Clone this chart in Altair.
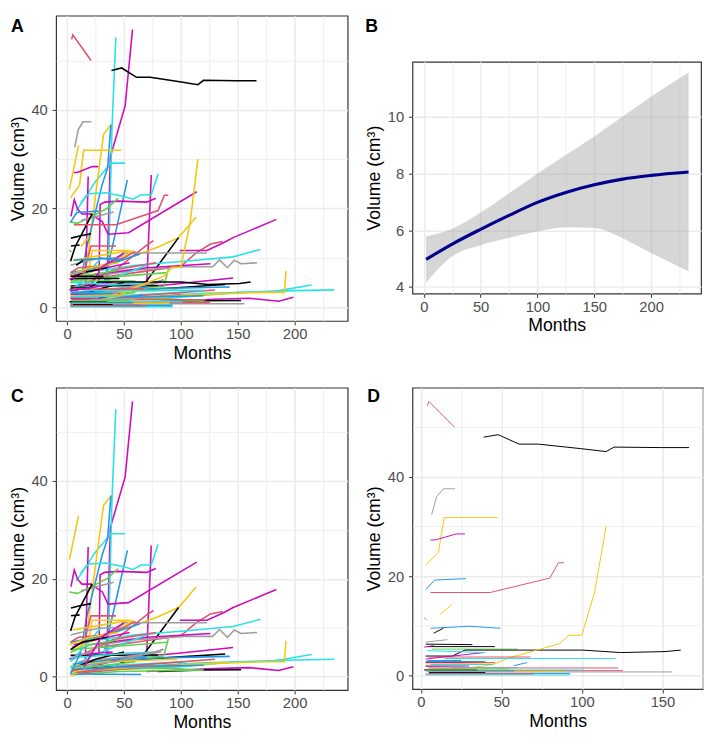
import altair as alt
import pandas as pd

PALETTE = ["#000000", "#DF536B", "#61D04F", "#2297E6", "#28E2E5", "#CD0BBC", "#F5C710", "#9E9E9E"]

# ---- Panel C (growing tumours) : months, volumes, colour index per patient ----
C_MONTHS = [
    [35, 38, 51, 57.5], [36, 39.5, 42.8], [8, 25, 38.5, 51], [18, 24, 32, 38.5], [2, 10],
    [12, 17, 31, 35.6, 38.5], [33, 41, 53], [16, 18.5], [3.4, 6.3, 9.2, 13, 22],
    [28, 29, 33, 45, 70, 78], [20, 31, 36, 54, 114], [34, 70, 74],
    [12, 19, 34, 49, 58, 65, 74, 80], [2, 9, 20, 35, 45], [12.6, 41], [3, 7, 22],
    [3.4, 12, 21], [3.4, 11], [15, 21, 43], [10, 35, 60, 80, 98, 113.5], [5, 40, 66, 98],
    [30, 60, 100, 113, 126, 137], [99, 123, 138, 146, 184],
    [30, 60, 103, 128, 134, 141, 147, 153, 167], [40, 51, 123], [30, 60, 103, 146, 170],
    [20, 70, 126], [40, 100, 146], [30, 100, 139], [10, 80, 143], [5, 50, 100, 150, 190, 235],
    [60, 120, 180, 215], [50, 110, 170, 191, 192.5], [70, 130, 160, 186, 199], [80, 120, 153],
    [30, 90, 120], [45, 70, 76], [10, 50, 85, 89], [50, 73, 84.5],
    [3, 20, 45, 58], [4, 25, 50, 60], [5, 30, 56], [18, 22, 54], [3, 26, 42], [3, 35, 64],
    [5, 40, 78], [3, 30, 70], [3, 80], [4, 60, 88], [3, 30, 60], [3, 50, 100], [5, 40, 70],
    [3, 20, 45], [6, 25, 55], [3, 45, 120], [4, 65], [3, 35, 97], [10, 50, 83], [3, 15, 30],
    [4, 25, 50], [3, 10, 36], [2, 12, 40], [3, 60, 105], [5, 55, 140], [3, 20], [8, 45, 130],
    [3, 40, 75], [4, 30, 60], [3, 13, 35], [2, 20, 45], [5, 22], [6, 42, 85], [15, 30, 50],
    [3, 12], [10, 60, 120],
]
C_VOLS = [
    [4.8, 30.5, 40.8, 56.3], [5.0, 36.6, 54.7], [19.5, 25.5, 29.2, 29.2], [10.0, 21.0, 35.0, 37.0], [23.9, 32.8],
    [5.0, 12.0, 25.0, 28.2, 37.0], [5.5, 13.5, 25.8], [3.0, 26.5], [18.4, 21.8, 19.9, 18.9, 18.9],
    [4.6, 20.8, 21.3, 21.5, 21.3, 22.1], [19.0, 17.3, 14.8, 15.1, 23.4], [4.6, 4.8, 26.8],
    [21.2, 23.0, 23.2, 22.5, 21.9, 22.8, 22.8, 27.0], [17.3, 17.0, 18.2, 20.0, 22.1], [17.6, 19.3], [9.3, 12.2, 18.9],
    [14.0, 14.5, 14.9], [12.4, 12.6], [7.0, 12.4, 12.4], [6.0, 8.5, 10.5, 12.2, 14.1, 18.3], [1.5, 2.2, 4.1, 14.1],
    [6.0, 7.0, 8.3, 10.9, 12.8, 13.3], [11.5, 11.5, 13.1, 14.1, 17.8],
    [6.5, 7.5, 8.2, 8.2, 9.6, 8.0, 9.5, 8.8, 9.0], [9.0, 11.0, 11.0], [7.5, 8.5, 9.3, 10.2, 11.7],
    [6.5, 8.0, 8.8], [3.5, 4.8, 5.9], [3.0, 4.0, 4.6], [2.8, 3.8, 4.1], [0.8, 1.5, 2.0, 3.0, 3.3, 3.5],
    [2.0, 2.8, 3.1, 4.5], [1.5, 2.5, 3.0, 3.0, 7.3], [1.0, 1.6, 1.8, 1.2, 2.0], [1.0, 1.3, 1.35],
    [1.5, 1.7, 1.2], [8.0, 12.6, 13.5], [2.5, 3.8, 4.2, 7.7], [3.0, 4.4, 5.6],
    [4.8, 7.5, 9.5, 11.5], [6.0, 8.0, 10.0, 11.3], [9.5, 10.5, 11.5], [6.0, 11.5, 11.5], [8.5, 9.8, 10.0], [7.0, 8.5, 10.8],
    [3.5, 7.5, 9.0], [2.0, 5.0, 8.5], [4.3, 4.4], [5.5, 6.5, 7.0], [1.0, 2.5, 4.5], [0.5, 1.5, 2.5], [2.5, 3.5, 4.0],
    [5.0, 6.5, 7.5], [6.5, 7.5, 9.0], [0.3, 1.0, 1.3], [0.5, 0.4], [2.0, 3.0, 3.5], [3.0, 4.0, 5.0], [3.0, 6.0, 10.0],
    [1.5, 3.5, 5.0], [7.0, 8.0, 8.5], [3.5, 4.5, 5.0], [1.8, 2.5, 3.0], [1.0, 1.8, 2.8], [0.3, 1.5], [0.8, 2.0, 3.5],
    [3.8, 4.5, 5.0], [1.5, 2.2, 3.0], [5.5, 7.0, 8.0], [6.5, 8.0, 9.0], [4.0, 5.0], [2.0, 3.0, 5.5], [2.0, 8.0, 11.0],
    [0.5, 5.0], [1.5, 2.0, 2.3],
]
C_COLS = [
    5, 4, 4, 6, 6, 3, 3, 5, 5, 5, 5, 5, 4, 2, 7, 0, 0, 0, 1, 6, 0, 1, 5, 7, 7, 4, 5, 5, 0, 3, 4,
    4, 6, 5, 0, 2, 1, 2, 7,
    6, 1, 6, 6, 7, 3, 1, 4, 0, 2, 5, 1, 3, 2, 5, 2, 3, 6, 7, 4, 0, 1, 5, 4, 6, 6, 1, 4, 2, 0, 6,
    7, 7, 5, 3, 3,
]

# ---- Panel D (stable tumours) ----
D_MONTHS = [
    [4, 5, 21], [39, 48, 61, 73, 99, 115, 120, 149, 166.5], [6.7, 9.8, 14, 21.3],
    [3, 11, 12.8, 14.6, 47.6], [6, 9, 22, 27.4], [3.2, 8.5, 28], [6, 43, 80, 85.5, 89],
    [12, 19], [2, 3.7], [6, 30, 49.4], [8, 14], [3, 16.5], [3, 32], [4, 46], [7, 60],
    [3, 19.5, 27.4, 100.6, 124, 151.6, 161.4], [3, 30, 45, 55, 70, 86, 92, 100, 108, 115],
    [15, 121], [5, 68], [3, 39], [2, 8], [4, 40], [5, 122.6], [10, 156], [5, 125.6],
    [8, 101.6], [5, 92.7], [3, 92.7], [3, 46], [57.7, 66], [2, 35], [3, 46], [4, 25],
    [3, 40], [20, 60], [3, 30], [4, 55], [5, 40], [3, 70], [4, 90], [3, 28], [6, 45], [3, 58],
]
D_VOLS = [
    [54.3, 55.2, 50.0], [48.0, 48.5, 46.6, 46.6, 45.7, 45.1, 46.0, 45.9, 45.9], [32.4, 36.0, 37.6, 37.6],
    [22.2, 24.8, 28.6, 31.8, 31.8], [27.3, 27.3, 28.5, 28.5], [17.3, 19.2, 19.5], [16.7, 16.7, 19.6, 22.7, 22.7],
    [12.3, 14.2], [11.6, 11.2], [9.5, 9.9, 9.5], [8.5, 9.5], [6.7, 7.2], [6.3, 6.2], [5.8, 5.8], [5.3, 5.3],
    [3.9, 3.9, 5.1, 5.1, 4.6, 4.8, 5.1], [1.2, 1.5, 2.2, 3.6, 4.9, 6.4, 8.1, 8.1, 16.9, 30.0],
    [3.4, 3.4], [3.7, 3.7], [3.3, 4.6], [5.7, 6.0], [5.0, 4.6], [1.5, 1.5], [0.7, 0.7], [0.95, 0.95],
    [1.1, 1.1], [0.4, 0.4], [0.1, 0.1], [2.6, 2.6], [1.95, 2.6], [1.1, 1.1], [2.3, 2.5], [3.0, 3.0],
    [2.8, 2.8], [1.6, 1.6], [1.8, 1.9], [1.3, 1.3], [0.6, 0.6], [0.3, 0.3], [0.8, 0.8], [2.0, 2.0], [2.2, 2.2], [0.9, 0.9],
]
D_COLS = [
    1, 0, 7, 6, 5, 3, 1, 6, 2, 3, 0, 7, 0, 0, 2, 0, 6, 4, 1, 5, 5, 4, 1, 7, 1, 4, 3, 4, 5, 3,
    0, 6, 3, 3, 7, 5, 2, 0, 1, 6, 7, 4, 3,
]

# ---- Panel B (smoothed trend with confidence band) ----
B_MONTHS = [2, 25, 50, 75, 100, 125, 150, 175, 200, 233]
B_FIT = [4.97, 5.51, 6.03, 6.52, 6.98, 7.33, 7.6, 7.8, 7.93, 8.05]
B_LOW = [4.15, 5.08, 5.47, 5.73, 5.95, 6.1, 6.08, 5.72, 5.2, 4.55]
B_HIGH = [5.78, 6.05, 6.62, 7.3, 8.0, 8.65, 9.3, 10.0, 10.7, 11.55]

X_TICKS_AC = [0, 25, 50, 75, 100, 125, 150, 175, 200, 225]
X_TICKS_D = [0, 25, 50, 75, 100, 125, 150, 175]
Y_TICKS_ACD = [0, 10, 20, 30, 40, 50]
Y_TICKS_B = [4, 5, 6, 7, 8, 9, 10, 11]

FONT = "Liberation Sans"


def frame(months, vols, cols, prefix):
    rows = []
    for i, (ms, vs, c) in enumerate(zip(months, vols, cols)):
        for j, (m, v) in enumerate(zip(ms, vs)):
            rows.append({"id": f"{prefix}{i:03d}", "seq": j, "Month": m, "Volume": v, "col": PALETTE[c]})
    return pd.DataFrame(rows)


def axis(values, major, title):
    test = f"datum.value % {major} === 0"
    return alt.Axis(
        values=values,
        title=title,
        labelExpr=f"{test} ? datum.label : ''",
        gridWidth={"condition": {"test": test, "value": 1.5}, "value": 0.8},
        tickOpacity={"condition": {"test": test, "value": 1}, "value": 0},
        labelFlush=False,
        labelOverlap=False,
    )


def label(txt, x, y):
    return alt.Chart(pd.DataFrame({"t": [txt]})).mark_text(
        align="left", baseline="top", fontSize=18, fontWeight="bold", font=FONT, color="black"
    ).encode(text="t:N", x=alt.value(x), y=alt.value(y))


def spaghetti(df, xdom, ydom, xvals, xmajor, w, h, sw, lab, lab_y):
    lines = alt.Chart(df).mark_line(strokeWidth=sw).encode(
        x=alt.X("Month:Q", scale=alt.Scale(domain=xdom, nice=False, zero=False),
                axis=axis(xvals, xmajor, "Months")),
        y=alt.Y("Volume:Q", scale=alt.Scale(domain=ydom, nice=False, zero=False),
                axis=axis(Y_TICKS_ACD, 20, "Volume (cm³)")),
        detail="id:N",
        color=alt.Color("col:N", scale=None),
        order="seq:Q",
    )
    return alt.layer(lines, label(lab, -46, lab_y)).properties(width=w, height=h)


dfC = frame(C_MONTHS, C_VOLS, C_COLS, "c")
dfD = frame(D_MONTHS, D_VOLS, D_COLS, "d")
dfA = pd.concat([dfC, dfD], ignore_index=True)

XDOM_AC = [-9.7, 246.7]
YDOM = [-2.8, 59.1]

panelA = spaghetti(dfA, XDOM_AC, YDOM, X_TICKS_AC, 50, 297, 311, 1.6, "A", 3)
panelC = spaghetti(dfC, XDOM_AC, YDOM, X_TICKS_AC, 50, 297, 308, 1.6, "C", 1)
panelD = spaghetti(dfD, [-5.2, 175.2], [-2.76, 57.96], X_TICKS_D, 50, 296, 307, 1.0, "D", 1)

dfB = pd.DataFrame({"Month": B_MONTHS, "fit": B_FIT, "low": B_LOW, "high": B_HIGH})
bx = alt.X("Month:Q", scale=alt.Scale(domain=[-10, 244], nice=False, zero=False),
           axis=axis(X_TICKS_AC, 50, "Months"))
by_scale = alt.Scale(domain=[3.77, 11.93], nice=False, zero=False)
band = alt.Chart(dfB).mark_area(color="#999999", opacity=0.4, interpolate="monotone").encode(
    x=bx,
    y=alt.Y("low:Q", scale=by_scale, axis=axis(Y_TICKS_B, 2, "Volume (cm³)")),
    y2="high:Q",
)
fit = alt.Chart(dfB).mark_line(color="#00008B", strokeWidth=3.2, interpolate="monotone").encode(
    x=bx, y=alt.Y("fit:Q", scale=by_scale)
)
panelB = alt.layer(band, fit).properties(width=294, height=236)

# header strip above panel B carrying its letter (keeps B's plot lower than A's, as in the figure)
headB = label("B", -48, 3).properties(
    width=294, height=45, view=alt.ViewBackground(stroke="transparent")
)
colB = alt.vconcat(headB, panelB, spacing=0)

row1 = alt.hconcat(panelA, colB, spacing=16)
row2 = alt.hconcat(panelC, panelD, spacing=16)

chart = alt.vconcat(row1, row2, spacing=24).properties(padding=0).configure_view(
    stroke="#333333", strokeWidth=1.2
).configure_axis(
    domain=False,
    gridColor="#EBEBEB",
    tickColor="#333333",
    tickSize=4,
    labelFont=FONT,
    labelFontSize=15,
    labelColor="#4D4D4D",
    titleFont=FONT,
    titleFontSize=18,
    titleFontWeight="normal",
    titleColor="black",
).configure_axisX(labelPadding=2, titlePadding=3).configure_axisY(labelPadding=5, titlePadding=4)

chart.save("out.html", embed_options={"renderer": "svg", "actions": False})
